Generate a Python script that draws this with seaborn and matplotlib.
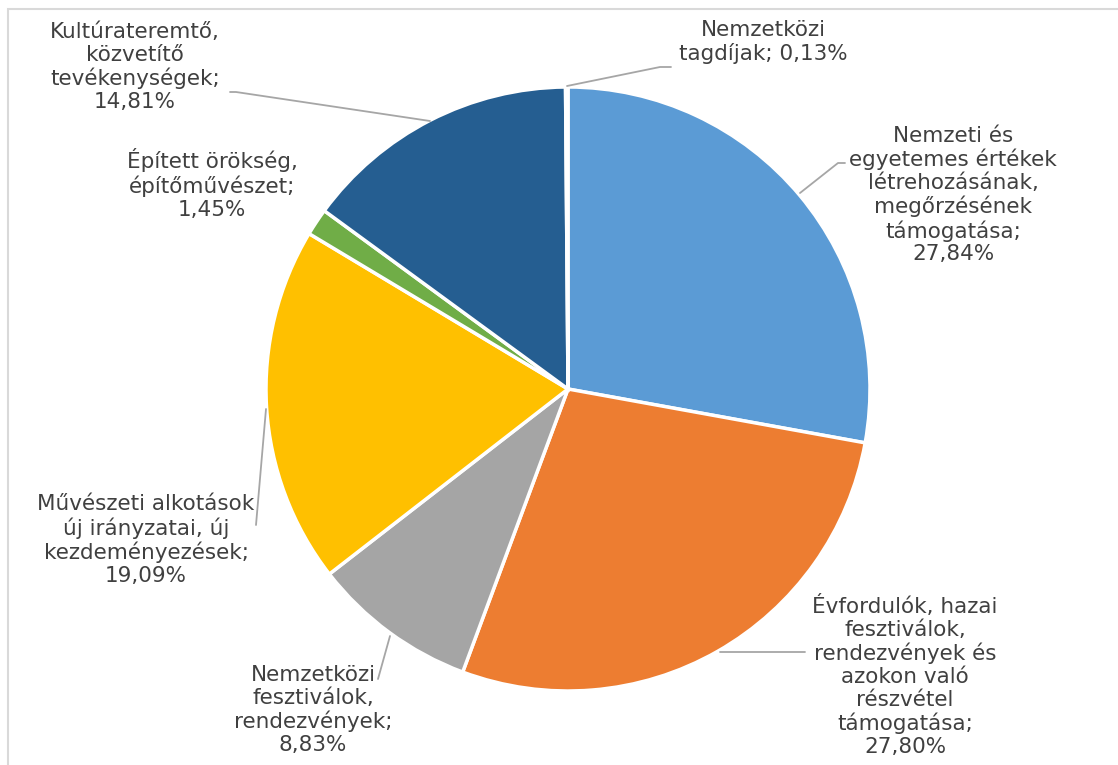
import matplotlib
matplotlib.use("Agg")
import matplotlib.pyplot as plt
from matplotlib.patches import Rectangle
import seaborn as sns

# adatok (oramutato jarasaval, fentrol indulva)
kategoriak = [
    "Nemzeti és\negyetemes értékek\nlétrehozásának,\nmegőrzésének\ntámogatása;",
    "Évfordulók, hazai\nfesztiválok,\nrendezvények és\nazokon való\nrészvétel\ntámogatása;",
    "Nemzetközi\nfesztiválok,\nrendezvények;",
    "Művészeti alkotások\núj irányzatai, új\nkezdeményezések;",
    "Épített örökség,\népítőművészet;",
    "Kultúrateremtő,\nközvetítő\ntevékenységek;",
    "Nemzetközi\ntagdíjak;",
]
szazalek = [27.84, 27.80, 8.83, 19.09, 1.45, 14.81, 0.13]
szinek = ["#5B9BD5", "#ED7D31", "#A5A5A5", "#FFC000", "#70AD47", "#255E91", "#9E480E"]

sns.set_theme(style="white")
plt.rcParams['font.family'] = ['DejaVu Sans']

W, H = 1118, 765
fig = plt.figure(figsize=(W / 100, H / 100), dpi=100)
ax = fig.add_axes([0, 0, 1, 1])

# kor kozeppont es sugar pixelben (y lefele)
cx, cy, r = 568, 389, 302
ax.pie(szazalek, colors=sns.color_palette(szinek), startangle=90, counterclock=False,
       center=(cx, H - cy), radius=r,
       wedgeprops=dict(edgecolor="white", linewidth=2.5))
ax.set_xlim(0, W)
ax.set_ylim(0, H)
ax.set_aspect("equal")
ax.axis("off")

def fmt(v):
    return f"{v:.2f}".replace(".", ",") + "%"

# cimkek helye (pixel, y fentrol)
cimke_pos = [(953, 195), (905, 676), (313, 710), (146, 540), (212, 184), (135, 67), (763, 42)]
# vezetovonalak
vonalak = [
    [(800, 193), (838, 163), (845, 163)],
    [(720, 652), (805, 652)],
    [(390, 636), (378, 679)],
    [(266, 409), (256, 525)],
    None,
    [(430, 121), (236, 92), (230, 92)],
    [(567, 86), (660, 67), (671, 67)],
]

szoveg_szin = "#404040"
for k, v, (tx, ty), ln in zip(kategoriak, szazalek, cimke_pos, vonalak):
    if k.startswith("Nemzetközi\ntag"):
        txt = "Nemzetközi\ntagdíjak; " + fmt(v)
    else:
        txt = k + "\n" + fmt(v)
    ax.text(tx, H - ty, txt, ha="center", va="center", multialignment="center",
            fontsize=15.5, color=szoveg_szin, linespacing=1.17)
    if ln:
        ax.plot([p[0] for p in ln], [H - p[1] for p in ln], color="#A6A6A6", lw=1.3)

# diagram keret
fig.patches.append(Rectangle((8 / W, -0.1), 1.2, (H - 9) / H + 0.1, transform=fig.transFigure,
                             fill=False, edgecolor="#D9D9D9", lw=1.5))

plt.savefig("out.png", dpi=100)
